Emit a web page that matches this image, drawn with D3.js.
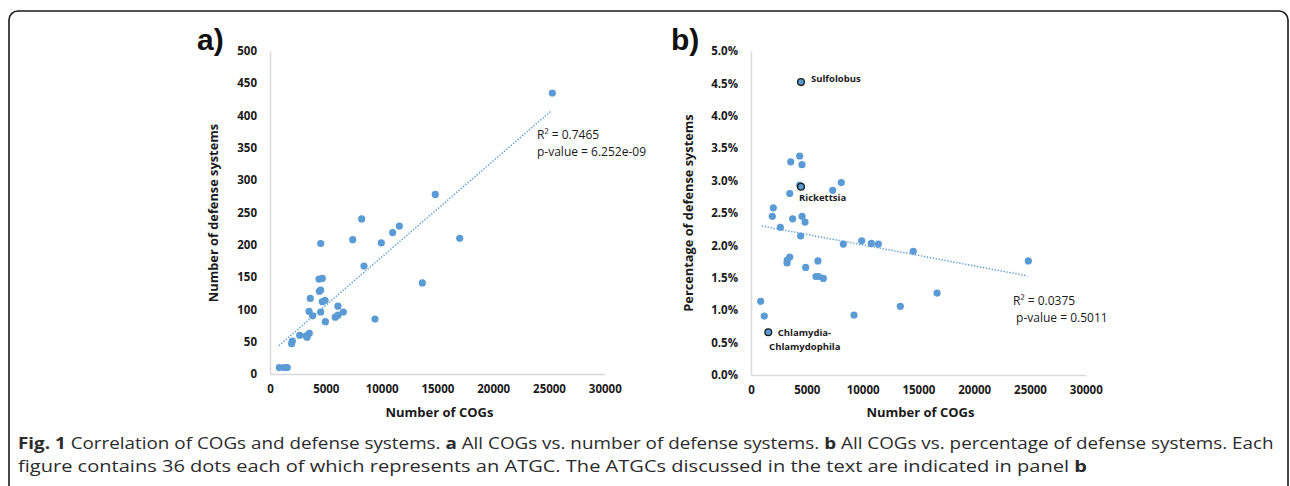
<!DOCTYPE html>
<html><head><meta charset="utf-8">
<script src="https://cdn.jsdelivr.net/npm/d3@7"></script>
<style>
html,body{margin:0;padding:0;background:#fff;}
svg{display:block;}
</style></head>
<body>
<svg id="c" width="1290" height="486"></svg>
<script>
// ---------- data ----------
const cogsA = [25300, 14810, 8215, 11590, 10990, 7410, 9975, 4540, 17000, 8420, 13650, 4390, 4690, 4420, 4540, 3610, 4690, 4930, 6090, 3500, 4540, 6570, 3820, 5850, 6090, 4960, 9410, 2660, 3320, 3250, 3520, 2000, 1940, 835, 1250, 1550];
const defenseA = [435, 278, 240, 229, 219, 208, 203, 202, 210, 167, 141, 147, 148, 128, 130, 117, 112, 114, 105, 97, 96, 96, 90, 88, 91, 81, 85, 60, 57, 59, 63, 51, 47, 10, 10, 10];
const trendA_cogs = [810, 25180];
const trendA_vals = [44, 407];

const cogsB = [4360, 3560, 4570, 4360, 8090, 7320, 3470, 2000, 1910, 3730, 4570, 4840, 2630, 4450, 8270, 9920, 10780, 11410, 14540, 24850, 3470, 3250, 3230, 6000, 4900, 5820, 6060, 6480, 16670, 870, 13380, 1190, 9230];
const percentB = [3.38, 3.29, 3.245, 2.93, 2.97, 2.85, 2.80, 2.58, 2.45, 2.41, 2.45, 2.36, 2.28, 2.145, 2.02, 2.07, 2.03, 2.02, 1.91, 1.76, 1.82, 1.775, 1.73, 1.76, 1.66, 1.52, 1.52, 1.49, 1.265, 1.137, 1.06, 0.91, 0.926];
const labeledNames = ["Sulfolobus", "Rickettsia", "Chlamydia-|Chlamydophila"];
const labeledCogs = [4480, 4480, 1550];
const labeledPercent = [4.52, 2.905, 0.66];
const trendB_cogs = [960, 24760];
const trendB_vals = [2.30, 1.53];

const xTicks = [0, 5000, 10000, 15000, 20000, 25000, 30000];
const yTicksA = [0, 50, 100, 150, 200, 250, 300, 350, 400, 450, 500];
const yTicksB = [0, 0.5, 1.0, 1.5, 2.0, 2.5, 3.0, 3.5, 4.0, 4.5, 5.0];

const statsA = ["R² = 0.7465", "p-value = 6.252e-09"];
const statsB = ["R² = 0.0375", " p-value = 0.5011"];

const captionLine1 = [["Fig. 1", true], [" Correlation of COGs and defense systems. ", false], ["a", true], [" All COGs vs. number of defense systems. ", false], ["b", true], [" All COGs vs. percentage of defense systems. Each", false]];
const captionLine2 = [["figure contains 36 dots each of which represents an ATGC. The ATGCs discussed in the text are indicated in panel ", false], ["b", true]];

// ---------- setup ----------
const svg = d3.select("#c");
const BLUE = "#5b9bd5";
const AXIS = "#d9d9d9";
const TXT = "#1a1a1a";
const FONT = "'Open Sans', sans-serif";

svg.append("rect").attr("x", 9).attr("y", 11).attr("width", 1279).attr("height", 520)
  .attr("rx", 9).attr("fill", "none").attr("stroke", "#1a1a1a").attr("stroke-width", 1.6);

function panel(opts) {
  const g = svg.append("g");
  const x = d3.scaleLinear().domain([0, 30000]).range([opts.x0, opts.x1]);
  const y = d3.scaleLinear().domain(opts.ydom).range([opts.y0, opts.y1]);

  const ya = g.append("g").attr("transform", `translate(${opts.x0},0)`)
    .call(d3.axisLeft(y).tickValues(opts.yticks).tickSize(0).tickPadding(13).tickFormat(opts.yfmt));
  ya.select(".domain").attr("stroke", AXIS).attr("stroke-width", 1.5);
  ya.selectAll("text").attr("font-family", FONT).attr("font-weight", 700).attr("font-size", "11.5px").attr("fill", TXT);

  const xa = g.append("g").attr("transform", `translate(0,${opts.y0})`)
    .call(d3.axisBottom(x).tickValues(xTicks).tickSize(0).tickPadding(11).tickFormat(d3.format("d")));
  xa.select(".domain").attr("stroke", AXIS).attr("stroke-width", 1.5);
  xa.selectAll("text").attr("font-family", FONT).attr("font-weight", 700).attr("font-size", "11.5px").attr("fill", TXT);

  g.append("text").attr("x", (opts.x0 + opts.x1) / 2 + 2).attr("y", 417).attr("text-anchor", "middle")
    .attr("font-family", FONT).attr("font-weight", 700).attr("font-size", "13px").attr("fill", TXT).text("Number of COGs");
  g.append("text").attr("transform", `translate(${opts.ytx},213) rotate(-90)`).attr("text-anchor", "middle")
    .attr("dy", "0.35em")
    .attr("font-family", FONT).attr("font-weight", 700).attr("font-size", "12.8px").attr("fill", TXT).text(opts.ytitle);

  g.append("text").attr("x", opts.lx).attr("y", 50).attr("font-family", "'Liberation Sans', Arial, sans-serif")
    .attr("font-weight", 700).attr("font-size", "30px").attr("fill", "#111").text(opts.letter);

  // trend
  g.append("line").attr("x1", x(opts.tc[0])).attr("y1", y(opts.tv[0])).attr("x2", x(opts.tc[1])).attr("y2", y(opts.tv[1]))
    .attr("stroke", BLUE).attr("stroke-width", 1.5).attr("stroke-dasharray", "1.3 1.7");

  g.selectAll("circle.pt").data(opts.xs.map((d, i) => [d, opts.ys[i]])).join("circle").attr("class", "pt")
    .attr("cx", d => x(d[0])).attr("cy", d => y(d[1])).attr("r", 3.6).attr("fill", BLUE);

  opts.stats.forEach((s, i) => {
    g.append("text").attr("x", opts.sx).attr("y", opts.sy + i * 17).attr("dy", "0.35em")
      .attr("font-family", FONT).attr("font-size", "12px").attr("fill", TXT).attr("xml:space", "preserve").text(s);
  });
  return {g, x, y};
}

const A = panel({x0: 270, x1: 604.8, y0: 374, y1: 51, ydom: [0, 500], yticks: yTicksA, yfmt: d3.format("d"),
  ytitle: "Number of defense systems", ytx: 214, letter: "a)", lx: 197,
  xs: cogsA, ys: defenseA, tc: trendA_cogs, tv: trendA_vals, stats: statsA, sx: 537, sy: 135});

const B = panel({x0: 751, x1: 1085.8, y0: 375, y1: 51, ydom: [0, 5.0], yticks: yTicksB, yfmt: d => d.toFixed(1) + "%",
  ytitle: "Percentage of defense systems", ytx: 689, letter: "b)", lx: 671,
  xs: cogsB, ys: percentB, tc: trendB_cogs, tv: trendB_vals, stats: statsB, sx: 1013, sy: 301});

// labeled points in panel b
const labOff = [[10, -3], [-2, 10.5], [9.5, 0.5]];
labeledNames.forEach((name, i) => {
  const cx = B.x(labeledCogs[i]), cy = B.y(labeledPercent[i]);
  B.g.append("circle").attr("cx", cx).attr("cy", cy).attr("r", 3.4).attr("fill", BLUE)
    .attr("stroke", "#1a1a1a").attr("stroke-width", 1.3);
  const parts = name.split("|");
  parts.forEach((p, j) => {
    B.g.append("text").attr("x", cx + labOff[i][0] - (j > 0 ? 8.7 : 0)).attr("y", cy + labOff[i][1] + j * 13.5)
      .attr("dy", "0.35em").attr("font-family", FONT).attr("font-weight", 700).attr("font-size", "9.5px")
      .attr("fill", TXT).text(p);
  });
});

// caption
function caption(parts, y, targetW) {
  const t = svg.append("text").attr("x", 0).attr("y", 0).attr("font-family", FONT)
    .attr("font-size", "16px").attr("fill", "#2b2b2b").attr("xml:space", "preserve");
  parts.forEach(p => t.append("tspan").attr("font-weight", p[1] ? 700 : 400).text(p[0]));
  const w = t.node().getComputedTextLength();
  t.attr("transform", `translate(18,${y}) scale(${targetW / w},1)`);
}
caption(captionLine1, 449, 1257);
caption(captionLine2, 472, 1070);
</script>
</body></html>
